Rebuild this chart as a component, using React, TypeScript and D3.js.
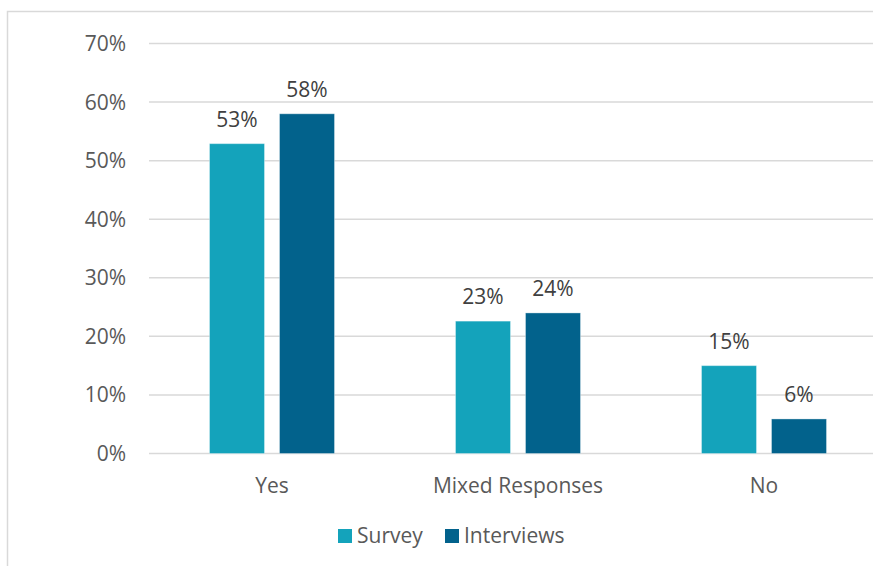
import React from "react";
import * as d3 from "d3";

const categories = ["Yes", "Mixed Responses", "No"];
const seriesNames = ["Survey", "Interviews"];
const surveyValues = [0.529, 0.226, 0.15];
const interviewValues = [0.58, 0.24, 0.059];
const yTicks = [0, 0.1, 0.2, 0.3, 0.4, 0.5, 0.6, 0.7];
const colors = ["#14A3BB", "#02628C"];

const W = 873;
const H = 566;

export default function App() {
  const left = 149;
  const bandW = 246;
  const x = d3
    .scaleBand<string>()
    .domain(categories)
    .range([left, left + bandW * categories.length])
    .paddingInner(0)
    .paddingOuter(0);
  const y = d3.scaleLinear().domain([0, 0.7]).range([453.5, 43.5]);
  const barW = 55;
  const gap = 15;
  const series = [surveyValues, interviewValues];
  const fmt = d3.format(".0%");
  const font = "'Open Sans', sans-serif";
  const fs = 21;

  return (
    <svg
      width={W}
      height={H}
      style={{ position: "absolute", left: 0, top: 0, background: "#fff" }}
      fontFamily={font}
    >
      <rect x={7.5} y={11.5} width={W + 20} height={H + 20} fill="#fff" stroke="#d9d9d9" strokeWidth={1.5} />
      {yTicks.map((t) => (
        <g key={t}>
          <line x1={left} x2={W} y1={y(t)} y2={y(t)} stroke="#d9d9d9" strokeWidth={1.5} />
          <text x={126} y={y(t)} dy="0.36em" textAnchor="end" fontSize={fs} fill="#595959">
            {fmt(t)}
          </text>
        </g>
      ))}
      {categories.map((c, i) => {
        const cx = (x(c) as number) + x.bandwidth() / 2;
        const groupW = barW * 2 + gap;
        return (
          <g key={c}>
            {series.map((vals, s) => {
              const bx = cx - groupW / 2 + s * (barW + gap);
              const v = vals[i];
              return (
                <g key={s}>
                  <rect
                    x={bx}
                    y={y(v)}
                    width={barW}
                    height={y(0) - y(v)}
                    fill={colors[s]}
                    stroke="#ffffff"
                    strokeOpacity={0.35}
                    strokeWidth={1}
                  />
                  <text
                    x={bx + barW / 2}
                    y={y(v) - 17}
                    textAnchor="middle"
                    fontSize={fs}
                    fill="#404040"
                  >
                    {fmt(v)}
                  </text>
                </g>
              );
            })}
            <text x={cx} y={493} textAnchor="middle" fontSize={fs} fill="#595959">
              {c}
            </text>
          </g>
        );
      })}
      {seriesNames.map((n, s) => {
        const lx = [338, 445][s];
        return (
          <g key={n}>
            <rect x={lx} y={529} width={14} height={14} fill={colors[s]} />
            <text x={lx + 19} y={543} fontSize={fs} fill="#595959">
              {n}
            </text>
          </g>
        );
      })}
    </svg>
  );
}
